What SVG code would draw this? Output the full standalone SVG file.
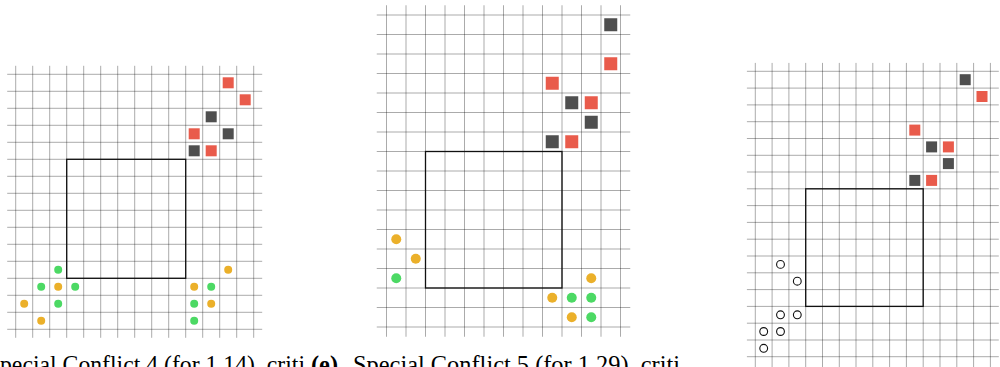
<svg xmlns="http://www.w3.org/2000/svg" width="1000" height="367" viewBox="0 0 1000 367">
<style>
.grid{fill:none;stroke:#000;stroke-opacity:0.33;stroke-width:1}
.box{fill:none;stroke:#111;stroke-width:1.3}
.red{fill:#e95b4b}
.dark{fill:#4f4f4f}
.org{fill:#ebb02a}
.grn{fill:#4cd964}
.hol{fill:none;stroke:#111;stroke-width:1.1}
.cap{font-family:"Liberation Serif","Times New Roman",serif;font-size:24.4px;fill:#000}
</style>
<rect width="1000" height="367" fill="#fff"/>

<g id="panel-left">
<path class="grid" d="M15.7 65.8V337.8M32.7 65.8V337.8M49.7 65.8V337.8M66.7 65.8V337.8M83.7 65.8V337.8M100.7 65.8V337.8M117.7 65.8V337.8M134.7 65.8V337.8M151.7 65.8V337.8M168.7 65.8V337.8M185.7 65.8V337.8M202.7 65.8V337.8M219.7 65.8V337.8M236.7 65.8V337.8M253.7 65.8V337.8
M7.2 74.3H262.2M7.2 91.3H262.2M7.2 108.3H262.2M7.2 125.3H262.2M7.2 142.3H262.2M7.2 159.3H262.2M7.2 176.3H262.2M7.2 193.3H262.2M7.2 210.3H262.2M7.2 227.3H262.2M7.2 244.3H262.2M7.2 261.3H262.2M7.2 278.3H262.2M7.2 295.3H262.2M7.2 312.3H262.2M7.2 329.3H262.2"/>
<rect class="box" x="66.7" y="159.3" width="119" height="119"/>
<rect class="red" x="222.7" y="77.3" width="11" height="11"/>
<rect class="red" x="239.7" y="94.3" width="11" height="11"/>
<rect class="dark" x="205.7" y="111.3" width="11" height="11"/>
<rect class="red" x="188.7" y="128.3" width="11" height="11"/>
<rect class="dark" x="222.7" y="128.3" width="11" height="11"/>
<rect class="dark" x="188.7" y="145.3" width="11" height="11"/>
<rect class="red" x="205.7" y="145.3" width="11" height="11"/>
<circle class="grn" cx="58.2" cy="269.8" r="4"/>
<circle class="grn" cx="41.2" cy="286.8" r="4"/>
<circle class="org" cx="58.2" cy="286.8" r="4"/>
<circle class="grn" cx="75.2" cy="286.8" r="4"/>
<circle class="org" cx="24.2" cy="303.8" r="4"/>
<circle class="grn" cx="58.2" cy="303.8" r="4"/>
<circle class="org" cx="41.2" cy="320.8" r="4"/>
<circle class="org" cx="228.2" cy="269.8" r="4"/>
<circle class="org" cx="194.2" cy="286.8" r="4"/>
<circle class="grn" cx="211.2" cy="286.8" r="4"/>
<circle class="grn" cx="194.2" cy="303.8" r="4"/>
<circle class="org" cx="211.2" cy="303.8" r="4"/>
<circle class="grn" cx="194.2" cy="320.8" r="4"/>
</g>

<g id="panel-middle">
<path class="grid" d="M386.5 5.25V336.75M406 5.25V336.75M425.5 5.25V336.75M445 5.25V336.75M464.5 5.25V336.75M484 5.25V336.75M503.5 5.25V336.75M523 5.25V336.75M542.5 5.25V336.75M562 5.25V336.75M581.5 5.25V336.75M601 5.25V336.75M620.5 5.25V336.75
M376.75 15H630.25M376.75 34.5H630.25M376.75 54H630.25M376.75 73.5H630.25M376.75 93H630.25M376.75 112.5H630.25M376.75 132H630.25M376.75 151.5H630.25M376.75 171H630.25M376.75 190.5H630.25M376.75 210H630.25M376.75 229.5H630.25M376.75 249H630.25M376.75 268.5H630.25M376.75 288H630.25M376.75 307.5H630.25M376.75 327H630.25"/>
<rect class="box" x="425.5" y="151.5" width="136.5" height="136.5"/>
<rect class="dark" x="604.25" y="18.25" width="13" height="13"/>
<rect class="red" x="604.25" y="57.25" width="13" height="13"/>
<rect class="red" x="545.75" y="76.75" width="13" height="13"/>
<rect class="dark" x="565.25" y="96.25" width="13" height="13"/>
<rect class="red" x="584.75" y="96.25" width="13" height="13"/>
<rect class="dark" x="584.75" y="115.75" width="13" height="13"/>
<rect class="dark" x="545.75" y="135.25" width="13" height="13"/>
<rect class="red" x="565.25" y="135.25" width="13" height="13"/>
<circle class="org" cx="396.25" cy="239.25" r="5"/>
<circle class="org" cx="415.75" cy="258.75" r="5"/>
<circle class="grn" cx="396.25" cy="278.25" r="5"/>
<circle class="org" cx="591.25" cy="278.25" r="5"/>
<circle class="org" cx="552.25" cy="297.75" r="5"/>
<circle class="grn" cx="571.75" cy="297.75" r="5"/>
<circle class="grn" cx="591.25" cy="297.75" r="5"/>
<circle class="org" cx="571.75" cy="317.25" r="5"/>
<circle class="grn" cx="591.25" cy="317.25" r="5"/>
</g>

<g id="panel-right">
<path class="grid" d="M755.3 62.9V367M772.1 62.9V367M788.9 62.9V367M805.7 62.9V367M822.5 62.9V367M839.3 62.9V367M856 62.9V367M872.8 62.9V367M889.6 62.9V367M906.4 62.9V367M923.2 62.9V367M940 62.9V367M956.8 62.9V367M973.6 62.9V367M990.4 62.9V367
M746.9 71.3H998.8M746.9 88.1H998.8M746.9 104.9H998.8M746.9 121.7H998.8M746.9 138.5H998.8M746.9 155.3H998.8M746.9 172H998.8M746.9 188.8H998.8M746.9 205.6H998.8M746.9 222.4H998.8M746.9 239.2H998.8M746.9 256H998.8M746.9 272.8H998.8M746.9 289.6H998.8M746.9 306.4H998.8M746.9 323.2H998.8M746.9 340H998.8M746.9 356.7H998.8"/>
<rect class="box" x="805.7" y="188.8" width="117.5" height="117.6"/>
<rect class="dark" x="959.7" y="74.2" width="11" height="11"/>
<rect class="red" x="976.5" y="91" width="11" height="11"/>
<rect class="red" x="909.3" y="124.6" width="11" height="11"/>
<rect class="dark" x="926.1" y="141.4" width="11" height="11"/>
<rect class="red" x="942.9" y="141.4" width="11" height="11"/>
<rect class="dark" x="942.9" y="158.1" width="11" height="11"/>
<rect class="dark" x="909.3" y="174.9" width="11" height="11"/>
<rect class="red" x="926.1" y="174.9" width="11" height="11"/>
<circle class="hol" cx="780.5" cy="264.4" r="3.9"/>
<circle class="hol" cx="797.3" cy="281.2" r="3.9"/>
<circle class="hol" cx="780.5" cy="314.8" r="3.9"/>
<circle class="hol" cx="797.3" cy="314.8" r="3.9"/>
<circle class="hol" cx="763.7" cy="331.5" r="3.9"/>
<circle class="hol" cx="780.5" cy="331.5" r="3.9"/>
<circle class="hol" cx="763.7" cy="348.3" r="3.9"/>
</g>

<g id="captions">
<text class="cap" x="0" y="373" textLength="305" lengthAdjust="spacingAndGlyphs">pecial Conflict 4 (for 1.14), criti</text>
<text class="cap" x="311" y="373" font-weight="bold">(e)</text>
<text class="cap" x="353" y="373" textLength="327" lengthAdjust="spacingAndGlyphs">Special Conflict 5 (for 1.29), criti</text>
</g>
</svg>
